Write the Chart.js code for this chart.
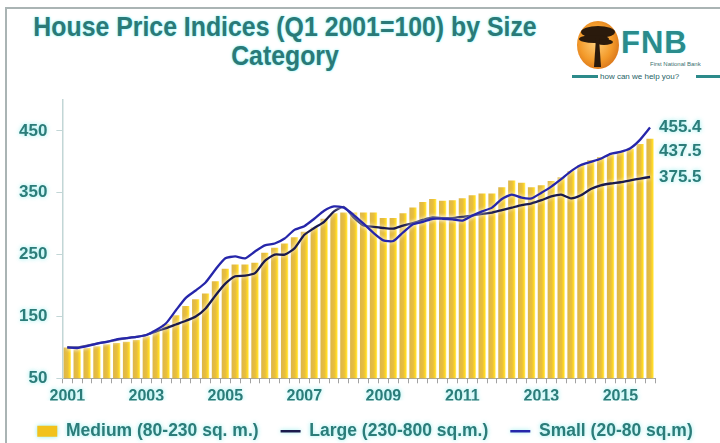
<!DOCTYPE html>
<html>
<head>
<meta charset="utf-8">
<script src="https://cdn.jsdelivr.net/npm/chart.js@4.4.0/dist/chart.umd.min.js"></script>
<style>
    body { margin: 0; background: #fff; }
    #wrap { position: relative; width: 720px; height: 443px; overflow: hidden; font-family: "Liberation Sans", Arial, sans-serif; }
    #frame { position: absolute; left: 5px; top: 7px; right: -10px; bottom: -10px; border-left: 2px solid #aab4b4; border-top: 2px solid #aab4b4; }
    #title { position: absolute; left: 0; width: 570px; top: 13px; text-align: center; font-weight: bold; font-size: 27px; line-height: 29px; color: #2a7a78; text-shadow: 0 0 3px #8ff0f0, 0 0 1px #bff; transform: scaleX(0.92); transform-origin: 285px 0; }
    #fnb { position: absolute; left: 621px; top: 25px; font-weight: bold; font-size: 31px; color: #2a8c8c; letter-spacing: 1px; text-shadow: 0 0 2px #bff; }
    #fnbSmall { position: absolute; left: 650px; top: 61px; font-size: 6px; color: #3a7070; }
    #help { position: absolute; left: 572px; top: 72px; width: 148px; height: 9px; font-size: 8px; line-height: 9px; color: #265f66; }
    #help .bar { position: absolute; top: 3px; height: 3px; background: #2c8a8a; }
    canvas { position: absolute; left: 0; top: 0; }
</style>
</head>
<body>
<div id="wrap">
    <div id="frame"></div>
    <div id="title">House Price Indices (Q1 2001=100) by Size<br>Category</div>
    <svg width="48" height="50" style="position:absolute;left:574px;top:20px">
        <defs>
            <radialGradient id="sun" cx="45%" cy="45%" r="60%">
                <stop offset="0" stop-color="#ffcf7a"/>
                <stop offset="0.65" stop-color="#f39a2a"/>
                <stop offset="1" stop-color="#d8741a"/>
            </radialGradient>
        </defs>
        <ellipse cx="24" cy="25" rx="21" ry="24" fill="url(#sun)"/>
        <ellipse cx="24" cy="12" rx="17" ry="6" fill="#2a1a0c"/>
        <ellipse cx="20" cy="19" rx="15" ry="4" fill="#2a1a0c"/>
        <ellipse cx="30" cy="22" rx="9" ry="3" fill="#2a1a0c"/>
        <path d="M22 18 L20 47 L27 47 L25 18 Z" fill="#2a1a0c"/>
    </svg>
    <div id="fnb">FNB</div>
    <div id="fnbSmall">First National Bank</div>
    <div id="help"><div class="bar" style="left:0;width:26px"></div><span style="position:absolute;left:28px">how can we help you?</span><div class="bar" style="left:124px;width:24px"></div></div>
    <canvas id="chart" width="720" height="450" style="width:720px;height:450px"></canvas>
</div>
<script>
    const years = ['2001', '2002', '2003', '2004', '2005', '2006', '2007', '2008',
        '2009', '2010', '2011', '2012', '2013', '2014', '2015']
    const quarterNames = ['Q1', 'Q2', 'Q3', 'Q4']
    const tickYears = ['2001', '2003', '2005', '2007', '2009', '2011', '2013', '2015']
    const yTicks = [50, 150, 250, 350, 450]

    const quarters = []
    years.forEach(y => quarterNames.forEach(q => quarters.push(y + ' ' + q)))

    // Medium (80-230 sq. m.) - bars
    const medium = [
        100, 97, 99, 102, 105, 107, 109, 112, 118, 128,
        138, 152, 167, 178, 187, 207, 227, 234, 234, 237,
        253, 261, 268, 278, 287, 294, 308, 317, 318, 318,
        318, 318, 309, 309, 317, 326, 335, 340, 337, 338,
        341, 346, 349, 349, 359, 370, 366, 359, 362, 369,
        375, 385, 395, 403, 408, 412, 416, 421, 429, 437.5
    ]
    // Large (230-800 sq.m.)
    const large = [
        100, 100, 103, 106, 109, 112, 115, 117, 120, 126,
        131, 137, 143, 150, 163, 184, 203, 215, 216, 220,
        240, 250, 250, 260, 282, 293, 303, 320, 327, 310,
        297, 295, 293, 292, 297, 301, 306, 310, 309, 309,
        311, 313, 316, 318, 322, 326, 330, 333, 338, 344,
        347, 341, 346, 356, 362, 365, 367, 370, 373, 375.5
    ]
    // Small (20-80 sq.m)
    const small = [
        100, 99, 102, 106, 109, 113, 115, 117, 120, 128,
        139, 160, 180, 192, 205, 226, 244, 247, 244, 255,
        265, 268, 276, 290, 296, 308, 321, 328, 326, 314,
        300, 285, 273, 272, 286, 299, 303, 308, 308, 307,
        305, 313, 320, 326, 340, 347, 342, 341, 350, 360,
        372, 385, 395, 400, 405, 413, 416, 422, 436, 455.4
    ]

    const teal = '#2c7c79'
    const glow = 'rgba(130, 235, 235, 0.9)'
    const fontFamily = '"Liberation Sans", Arial, sans-serif'

    // gold bar with a bright edge, like the original
    function barFill(context) {
        const chart = context.chart
        const xs = chart.scales.x
        if (!xs || !xs.width || context.type !== 'data') return '#ecc136'
        const cx = xs.getPixelForValue(context.dataIndex)
        const w = xs.width / quarters.length * 0.74
        const g = chart.ctx.createLinearGradient(cx - w / 2, 0, cx + w / 2, 0)
        g.addColorStop(0, '#dcb64c')
        g.addColorStop(0.55, '#e9bf3c')
        g.addColorStop(0.82, '#ffd824')
        g.addColorStop(1, '#fff07a')
        return g
    }

    function withGlow(ctx, fn) {
        ctx.save()
        ctx.shadowColor = glow
        ctx.shadowBlur = 4
        fn()
        ctx.restore()
    }

    const glowPlugin = {
        id: 'glow',
        afterLayout(chart) {
            // cyan halo round the texts
            ['x', 'y'].forEach(id => {
                const sc = chart.scales[id]
                if (sc._glowed) return
                const orig = sc.drawLabels
                sc.drawLabels = function (area) { withGlow(chart.ctx, () => orig.call(this, area)) }
                sc._glowed = true
            })
            const lg = chart.legend
            if (lg && !lg._glowed) {
                const origDraw = lg.draw
                lg.draw = function () { withGlow(chart.ctx, () => origDraw.call(this)) }
                lg._glowed = true
            }
        },
        beforeDatasetDraw(chart, args) {
            if (chart.data.datasets[args.index].type === 'line') {
                chart.ctx.save()
                chart.ctx.shadowColor = 'rgba(255,255,255,1)'
                chart.ctx.shadowBlur = 4
            }
        },
        afterDatasetDraw(chart, args) {
            if (chart.data.datasets[args.index].type === 'line') chart.ctx.restore()
        }
    }

    const endLabels = {
        id: 'endLabels',
        afterDatasetsDraw(chart) {
            const { ctx, chartArea } = chart
            ctx.save()
            ctx.font = 'bold 17px ' + fontFamily
            ctx.fillStyle = teal
            ctx.textBaseline = 'middle'
            ctx.shadowColor = glow
            ctx.shadowBlur = 4
            chart.data.datasets.forEach((ds, i) => {
                const meta = chart.getDatasetMeta(i)
                const last = meta.data[meta.data.length - 1]
                const shift = ds.type === 'line' ? 0 : 13
                ctx.fillText(ds.data[ds.data.length - 1].toFixed(1), chartArea.right + 4, last.y + shift)
            })
            ctx.restore()
        }
    }

    new Chart('chart', {
        type: 'bar',
        data: {
            labels: quarters,
            datasets: [{
                label: 'Medium (80-230 sq. m.)',
                data: medium,
                backgroundColor: barFill,
                borderWidth: 0,
                categoryPercentage: 1,
                barPercentage: 0.74,
                pointStyle: 'rect',
                order: 3
            }, {
                type: 'line',
                label: 'Large (230-800 sq.m.)',
                data: large,
                borderColor: '#1b1a4c',
                borderWidth: 2.3,
                pointRadius: 0,
                tension: 0.2,
                pointStyle: 'line',
                order: 2
            }, {
                type: 'line',
                label: 'Small (20-80 sq.m)',
                data: small,
                borderColor: '#2626aa',
                borderWidth: 2.3,
                pointRadius: 0,
                tension: 0.2,
                pointStyle: 'line',
                order: 1
            }]
        },
        options: {
            responsive: false,
            animation: false,
            layout: { padding: { left: 10, top: 100, right: 0, bottom: 0 } },
            scales: {
                x: {
                    afterFit: s => { s.height -= 10 },
                    ticks: {
                        autoSkip: false,
                        maxRotation: 0,
                        color: teal,
                        font: { family: fontFamily, size: 16, weight: 'bold' },
                        padding: 4,
                        callback: function (v, i) {
                            const parts = quarters[i].split(' ')
                            return parts[1] === 'Q1' && tickYears.includes(parts[0]) ? parts[0] : ''
                        }
                    },
                    grid: { drawOnChartArea: false, tickLength: 5, color: '#a2a2a2' },
                    border: { color: '#a2a2a2' }
                },
                y: {
                    min: 50,
                    max: 500,
                    afterBuildTicks: s => { s.ticks = yTicks.map(v => ({ value: v })) },
                    ticks: {
                        color: teal,
                        font: { family: fontFamily, size: 17, weight: 'bold' },
                        padding: 9
                    },
                    grid: { drawOnChartArea: false, tickLength: 6, color: '#c2d6d6' },
                    border: { color: '#c2d6d6', width: 1.5 }
                },
                y2: {
                    type: 'linear',
                    position: 'right',
                    grid: { display: false },
                    border: { display: false },
                    ticks: { display: false },
                    afterFit: s => { s.width = 65 }
                }
            },
            plugins: {
                tooltip: { enabled: false },
                legend: {
                    position: 'bottom',
                    labels: {
                        usePointStyle: true,
                        pointStyleWidth: 20,
                        boxHeight: 11,
                        padding: 22,
                        color: teal,
                        font: { family: fontFamily, size: 17.5, weight: 'bold' },
                        sort: (a, b) => a.datasetIndex - b.datasetIndex,
                        generateLabels: chart => {
                            const items = Chart.defaults.plugins.legend.labels.generateLabels(chart)
                            items.forEach(it => {
                                if (it.datasetIndex === 0) {
                                    it.fillStyle = '#f2c21c'
                                    it.strokeStyle = '#f2c21c'
                                    it.lineWidth = 0
                                }
                            })
                            return items
                        }
                    }
                }
            }
        },
        plugins: [glowPlugin, endLabels]
    })
</script>
</body>
</html>
